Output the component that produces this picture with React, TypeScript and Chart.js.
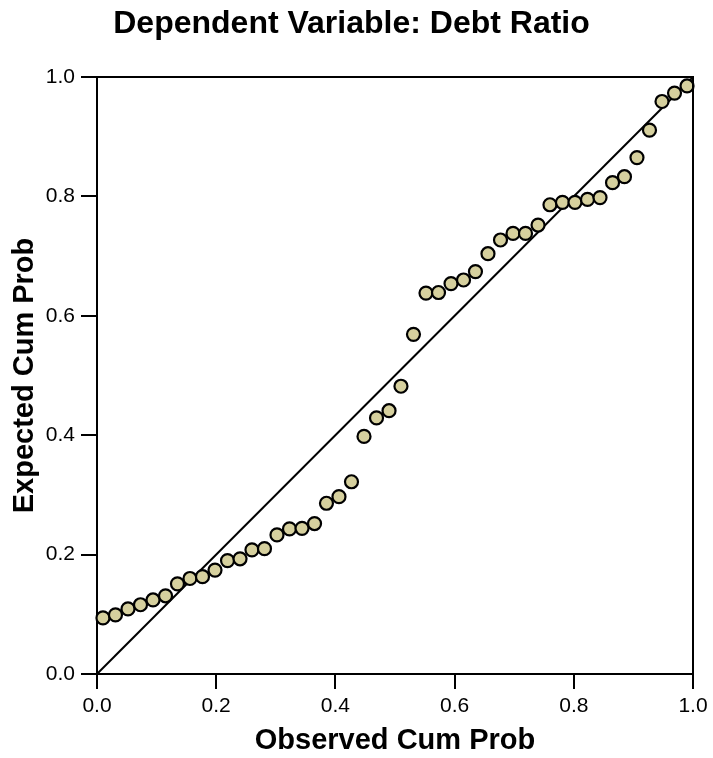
import React, { useEffect, useRef } from "react";
import { Chart, registerables } from "chart.js";

Chart.register(...registerables);

const titleText = "Dependent Variable: Debt Ratio";
const xAxisTitle = "Observed Cum Prob";
const yAxisTitle = "Expected Cum Prob";

const observedCumProb = [
  0.010, 0.031, 0.052, 0.073, 0.094, 0.115, 0.135, 0.156, 0.177, 0.198, 0.219, 0.240,
  0.260, 0.281, 0.302, 0.323, 0.344, 0.365, 0.385, 0.406, 0.427, 0.448, 0.469, 0.490,
  0.510, 0.531, 0.552, 0.573, 0.594, 0.615, 0.635, 0.656, 0.677, 0.698, 0.719, 0.740,
  0.760, 0.781, 0.802, 0.823, 0.844, 0.865, 0.885, 0.906, 0.927, 0.948, 0.969, 0.990,
];

const expectedCumProb = [
  0.094, 0.099, 0.109, 0.116, 0.124, 0.131, 0.151, 0.160, 0.163, 0.174, 0.190, 0.193,
  0.208, 0.210, 0.233, 0.243, 0.244, 0.252, 0.286, 0.297, 0.322, 0.398, 0.429, 0.441,
  0.482, 0.569, 0.638, 0.639, 0.654, 0.660, 0.674, 0.704, 0.727, 0.738, 0.738, 0.752,
  0.786, 0.790, 0.790, 0.795, 0.798, 0.823, 0.833, 0.865, 0.911, 0.959, 0.973, 0.985,
];

const diagonalX = [0, 1];
const diagonalY = [0, 1];

const FONT = "'Liberation Sans', Arial, Helvetica, sans-serif";

const framePlugin = {
  id: "frame",
  afterDraw(chart: any) {
    const { ctx, chartArea } = chart;
    ctx.save();
    ctx.strokeStyle = "#000";
    ctx.lineWidth = 2;
    ctx.beginPath();
    ctx.moveTo(chartArea.left, chartArea.top);
    ctx.lineTo(chartArea.right, chartArea.top);
    ctx.lineTo(chartArea.right, chartArea.bottom);
    ctx.stroke();
    ctx.restore();
  },
};

export default function App() {
  const canvasRef = useRef<HTMLCanvasElement | null>(null);

  useEffect(() => {
    if (!canvasRef.current) return;
    const points = observedCumProb.map((x, i) => ({ x, y: expectedCumProb[i] }));
    const diag = diagonalX.map((x, i) => ({ x, y: diagonalY[i] }));
    const chart = new Chart(canvasRef.current, {
      type: "scatter",
      data: {
        datasets: [
          {
            label: "points",
            data: points,
            backgroundColor: "rgb(214, 208, 158)",
            borderColor: "#000",
            borderWidth: 2.2,
            pointRadius: 6.5,
            pointHoverRadius: 6.5,
            clip: false as any,
          },
          {
            label: "diagonal",
            type: "line" as any,
            data: diag,
            borderColor: "#000",
            borderWidth: 2,
            pointRadius: 0,
            fill: false,
          },
        ],
      },
      options: {
        animation: false,
        responsive: false,
        layout: { padding: { left: 10, right: 20, top: 0, bottom: 0 } },
        plugins: {
          legend: { display: false },
          tooltip: { enabled: false },
          title: {
            display: true,
            text: titleText,
            color: "#000",
            font: { family: FONT, size: 32, weight: "bold" },
            padding: { top: 5, bottom: 33.6 },
          },
        },
        scales: {
          x: {
            type: "linear",
            min: 0,
            max: 1,
            afterFit(scale: any) {
              scale.height = 84;
            },
            ticks: {
              stepSize: 0.2,
              color: "#000",
              padding: 5,
              maxRotation: 0,
              font: { family: FONT, size: 21 },
              callback: (v: any) => Number(v).toFixed(1),
            },
            grid: {
              drawOnChartArea: false,
              drawTicks: true,
              tickLength: 15,
              color: "#000",
              lineWidth: 2,
            },
            border: { display: true, color: "#000", width: 2 },
            title: {
              display: true,
              text: xAxisTitle,
              color: "#000",
              font: { family: FONT, size: 29, weight: "bold" },
              padding: { top: 0, bottom: 0 },
            },
          },
          y: {
            type: "linear",
            min: 0,
            max: 1,
            afterFit(scale: any) {
              scale.width = 87;
            },
            ticks: {
              stepSize: 0.2,
              color: "#000",
              padding: 6,
              font: { family: FONT, size: 21 },
              callback: (v: any) => Number(v).toFixed(1),
            },
            grid: {
              drawOnChartArea: false,
              drawTicks: true,
              tickLength: 16,
              color: "#000",
              lineWidth: 2,
            },
            border: { display: true, color: "#000", width: 2 },
            title: {
              display: true,
              text: yAxisTitle,
              color: "#000",
              font: { family: FONT, size: 29, weight: "bold" },
              padding: { top: -2, bottom: 0 },
            },
          },
        },
      },
      plugins: [framePlugin],
    });
    return () => chart.destroy();
  }, []);

  return (
    <div style={{ position: "absolute", left: 0, top: 0, width: 713, height: 758, background: "#fff" }}>
      <canvas ref={canvasRef} width={713} height={758} style={{ display: "block" }} />
    </div>
  );
}
